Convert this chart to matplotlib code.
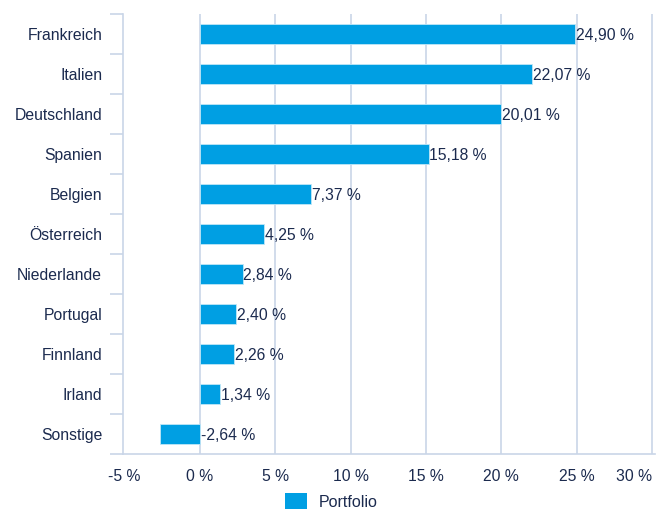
import matplotlib.pyplot as plt
import numpy as np
from matplotlib.patches import Patch

countries = ["Frankreich", "Italien", "Deutschland", "Spanien", "Belgien",
             "Österreich", "Niederlande", "Portugal", "Finnland", "Irland", "Sonstige"]
weights = [24.90, 22.07, 20.01, 15.18, 7.37, 4.25, 2.84, 2.40, 2.26, 1.34, -2.64]
xticks = [-5, 0, 5, 10, 15, 20, 25, 30]

bar_col = "#009fe3"
txt_col = "#1b2a4e"
grid_col = "#c9d5e8"

plt.rcParams['font.family'] = ['Liberation Sans', 'DejaVu Sans']
plt.rcParams['font.size'] = 11.3

fig = plt.figure(figsize=(6.66, 5.09), dpi=100)
ax = fig.add_axes([0.1847, 0.108, 0.9835 - 0.1847, 0.9725 - 0.108])

y = np.arange(len(countries))
ax.barh(y, weights, height=0.48, color=bar_col, edgecolor="#bfe6f7", linewidth=0.6, zorder=3)
for yi, v in zip(y, weights):
    lbl = f"{v:.2f}".replace(".", ",") + " %"
    ax.text(max(v, 0) + 0.05, yi + 0.03, lbl, va="center", ha="left", color=txt_col, zorder=4)

ax.set_ylim(len(countries) - 0.5, -0.5)
ax.set_xlim(-5.1, 30.2)

ax.set_yticks(y)
ax.set_yticklabels(countries, color=txt_col)
ax.set_yticks(np.arange(-0.5, len(countries), 1), minor=True)
ax.tick_params(axis="y", which="major", length=0, pad=15)
ax.tick_params(axis="y", which="minor", length=9.4, color=grid_col, width=1.2)

ax.set_xticks(xticks)
ax.set_xticklabels([f"{t} %" for t in xticks], color=txt_col)
ax.tick_params(axis="x", length=0, pad=11)
ax.get_xticklabels()[-1].set_ha("right")

for t in xticks[1:]:
    ax.axvline(t, color=grid_col, linewidth=1.2, zorder=1)

for s in ["top", "right"]:
    ax.spines[s].set_visible(False)
for s in ["left", "bottom"]:
    ax.spines[s].set_color(grid_col)
    ax.spines[s].set_linewidth(1.2)

handles = [Patch(facecolor=bar_col, edgecolor="none", label="Portfolio")]
leg = fig.legend(handles=handles, loc="lower center", bbox_to_anchor=(0.497, -0.03),
                 frameon=False, handlelength=1.4, handleheight=1.25,
                 handletextpad=0.7, fontsize=11.5)
for t in leg.get_texts():
    t.set_color(txt_col)

fig.savefig("out.png", dpi=100)
